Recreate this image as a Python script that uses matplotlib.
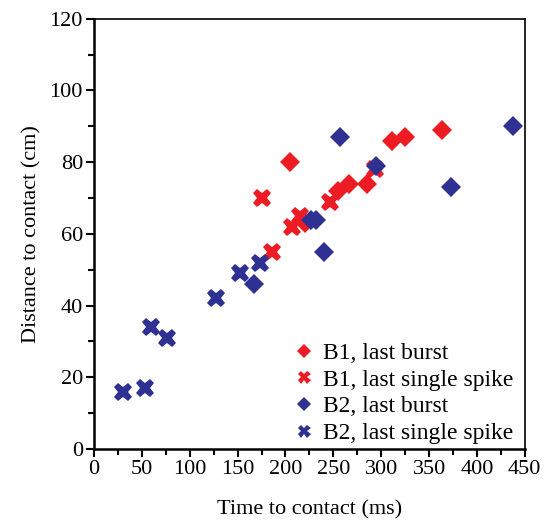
import matplotlib
matplotlib.use("Agg")
import matplotlib.pyplot as plt
from matplotlib.ticker import MultipleLocator

plt.rcParams['font.family'] = ['Liberation Serif', 'DejaVu Serif']

# B1 / B2 data (time ms, distance cm)
b1_burst_t = [205, 220, 255, 266, 285, 311, 325, 363]
b1_burst_d = [80, 63, 72, 74, 74, 86, 87, 89]
b1_spike_t = [175, 186, 207, 215, 246, 293]
b1_spike_d = [70, 55, 62, 65, 69, 78]
b2_burst_t = [167, 227, 232, 240, 257, 295, 373, 438]
b2_burst_d = [46, 64, 64, 55, 87, 79, 73, 90]
b2_spike_t = [30, 53, 60, 76, 127, 153, 173]
b2_spike_d = [16, 17, 34, 31, 42, 49, 52]

red = '#ED1C24'
blue = '#2E3192'

fig = plt.figure(figsize=(5.53, 5.2), dpi=100)
ax = fig.add_axes([0.170, 0.1365, 0.779, 0.8275])

ax.plot(b1_burst_t, b1_burst_d, 'D', color=red, ms=10, mew=0, label='B1, last burst')
ax.plot(b1_spike_t, b1_spike_d, 'X', color=red, ms=13, mew=0, label='B1, last single spike')
ax.plot(b2_burst_t, b2_burst_d, 'D', color=blue, ms=10, mew=0, label='B2, last burst')
ax.plot(b2_spike_t, b2_spike_d, 'X', color=blue, ms=13, mew=0, label='B2, last single spike')

ax.set_xlim(0, 450)
ax.set_ylim(0, 120)
ax.xaxis.set_major_locator(MultipleLocator(50))
ax.xaxis.set_minor_locator(MultipleLocator(25))
ax.yaxis.set_major_locator(MultipleLocator(20))
ax.yaxis.set_minor_locator(MultipleLocator(10))
ax.tick_params(which='both', direction='out', width=1.5, labelsize=16, top=False, right=False)
ax.tick_params(which='major', length=6, pad=2)
ax.tick_params(which='minor', length=4)
for s in ['left', 'bottom']:
    ax.spines[s].set_linewidth(1.8)
for s in ['top', 'right']:
    ax.spines[s].set_linewidth(1.2)

ax.set_xlabel('Time to contact (ms)', fontsize=16, labelpad=15)
ax.set_ylabel('Distance to contact (cm)', fontsize=16, labelpad=6)

leg = ax.legend(loc='lower right', bbox_to_anchor=(1.0, -0.016), frameon=False, fontsize=17,
                handlelength=0.6, handletextpad=0.5, labelspacing=0.22, borderaxespad=0.1,
                markerscale=0.72)

fig.savefig('out.png', dpi=100)
